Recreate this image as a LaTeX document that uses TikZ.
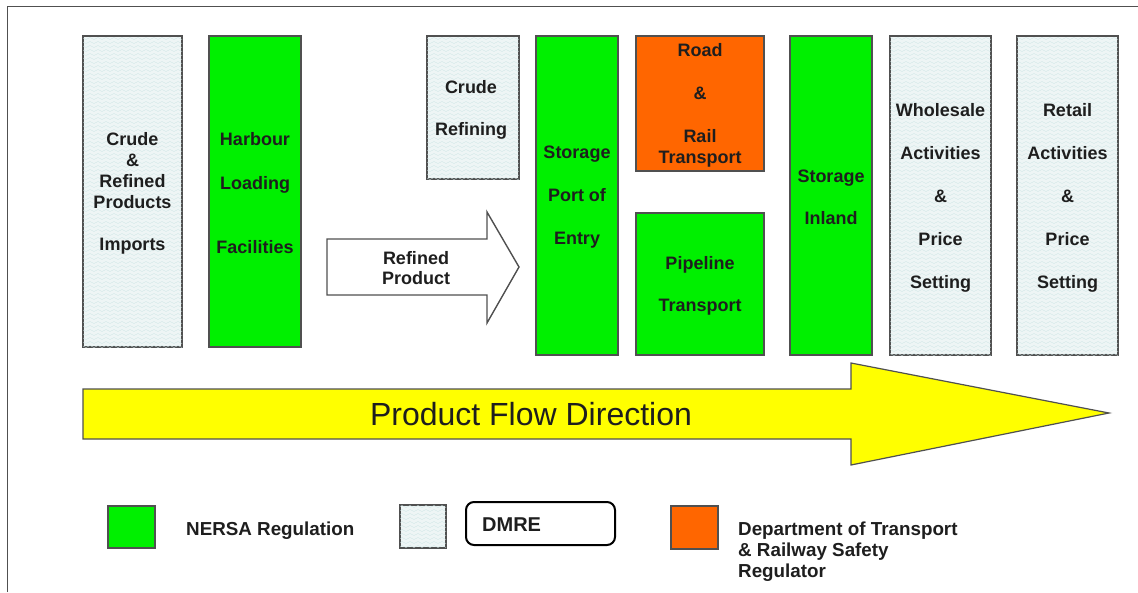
\documentclass[tikz,border=0pt]{standalone}
\usepackage{fontspec}
\setmainfont{Liberation Sans}
\usetikzlibrary{patterns}

% fine wavy texture used for the DMRE-regulated activities
\pgfdeclarepatternformonly{wavelets}{\pgfqpoint{0pt}{-0.5pt}}{\pgfqpoint{8pt}{4pt}}{\pgfqpoint{8pt}{4pt}}{%
  \pgfsetlinewidth{0.35pt}%
  \pgfpathmoveto{\pgfqpoint{0pt}{1.5pt}}%
  \pgfpathcurveto{\pgfqpoint{1.33pt}{2.8pt}}{\pgfqpoint{2.67pt}{2.8pt}}{\pgfqpoint{4pt}{1.5pt}}%
  \pgfpathcurveto{\pgfqpoint{5.33pt}{0.2pt}}{\pgfqpoint{6.67pt}{0.2pt}}{\pgfqpoint{8pt}{1.5pt}}%
  \pgfusepath{stroke}%
}

\definecolor{framegray}{HTML}{505050}
\definecolor{inkdark}{HTML}{1E1E1E}
\definecolor{nersagreen}{HTML}{00F000}
\definecolor{dotorange}{HTML}{FF6600}
\definecolor{dmretint}{HTML}{EEF5F5}
\definecolor{dmrewave}{HTML}{CFE5E5}
\definecolor{flowyellow}{HTML}{FFFF00}

\tikzset{
  actbox/.style={draw=framegray, line width=1.4pt, rectangle, inner sep=0pt},
  dmrebox/.style={actbox, fill=dmretint, postaction={pattern=wavelets, pattern color=dmrewave}},
  nersabox/.style={actbox, fill=nersagreen},
  dotbox/.style={actbox, fill=dotorange},
  boxtext/.style={text=inkdark, align=center, inner sep=0pt,
    font=\fontsize{18}{21}\selectfont\bfseries},
  keytext/.style={text=inkdark, align=left, anchor=west, inner sep=0pt,
    font=\fontsize{18.8}{21}\selectfont\bfseries},
}

\begin{document}
\begin{tikzpicture}[x=1pt, y=-1pt]
\useasboundingbox (0,0) rectangle (1138,592);

% page frame
\draw[framegray, line width=1pt] (7,592) -- (7,6.5) -- (1138,6.5);

% activity columns
\node[dmrebox, minimum width=99, minimum height=311] (imports) at (132.5,191.5) {};
\node[boxtext] (importstxt) at ([yshift=-2pt]imports.center)
  {Crude\\ \&\\ Refined\\ Products\\[21pt] Imports};
\node[nersabox, minimum width=92, minimum height=311] (harbour) at (255,191.5) {};
\node[boxtext] (harbourtxt) at ([yshift=-2pt]harbour.center)
  {Harbour\\[23pt] Loading\\[43pt] Facilities};
\node[dmrebox, minimum width=92, minimum height=143] (refining) at (473,107.5) {};
\node[boxtext] (refiningtxt) at ([xshift=-2pt, yshift=-2pt]refining.center)
  {Crude\\[21pt] Refining};
\node[nersabox, minimum width=82, minimum height=319] (portstore) at (577,195.5) {};
\node[boxtext] (portstoretxt) at ([yshift=-2pt]portstore.center)
  {Storage\\[22pt] Port of\\[22pt] Entry};
\node[dotbox, minimum width=128, minimum height=135] (roadrail) at (700,103.5) {};
\node[boxtext] (roadrailtxt) at ([yshift=-2pt]roadrail.center)
  {Road\\[22pt] \&\\[22pt] Rail\\ Transport};
\node[nersabox, minimum width=128, minimum height=142] (pipeline) at (700,284) {};
\node[boxtext] (pipelinetxt) at ([yshift=-2pt]pipeline.center)
  {Pipeline\\[21pt] Transport};
\node[nersabox, minimum width=82, minimum height=319] (inland) at (831,195.5) {};
\node[boxtext] (inlandtxt) at ([yshift=-2pt]inland.center)
  {Storage\\[21pt] Inland};
\node[dmrebox, minimum width=101, minimum height=319] (wholesale) at (940.5,195.5) {};
\node[boxtext] (wholesaletxt) at ([yshift=-2pt]wholesale.center)
  {Wholesale\\[22pt] Activities\\[22pt] \&\\[22pt] Price\\[22pt] Setting};
\node[dmrebox, minimum width=101, minimum height=319] (retail) at (1067.5,195.5) {};
\node[boxtext] (retailtxt) at ([yshift=-2pt]retail.center)
  {Retail\\[22pt] Activities\\[22pt] \&\\[22pt] Price\\[22pt] Setting};

% refined product block arrow
\draw[framegray, line width=1.4pt, fill=white]
  (327,239) -- (487,239) -- (487,212) -- (519,267) -- (487,323) -- (487,295) -- (327,295) -- cycle;
\node[boxtext, font=\fontsize{18}{20}\selectfont\bfseries]
  (refined) at (416,268) {Refined\\ Product};

% product flow arrow
\draw[framegray, line width=1.2pt, fill=flowyellow]
  (83,389) -- (851,389) -- (851,363) -- (1109,413) -- (851,465) -- (851,439) -- (83,439) -- cycle;
\node[text=inkdark, inner sep=0pt, font=\fontsize{32}{36}\selectfont]
  (flow) at (531,414) {Product Flow Direction};

% legend
\node[nersabox, minimum width=47, minimum height=42] (keynersa) at (131.5,527) {};
\node[keytext] (lblnersa) at (186,531) {NERSA Regulation};
\node[dmrebox, minimum width=46, minimum height=43] (keydmre) at (423,526.5) {};
\node[draw=black, line width=2pt, rounded corners=8pt, minimum width=149, minimum height=43,
  inner sep=0pt] (dmreframe) at (540.5,523.5) {};
\node[keytext, font=\fontsize{20}{22}\selectfont\bfseries] (lbldmre) at (482,525) {DMRE};
\node[dotbox, minimum width=47, minimum height=43] (keydot) at (694.5,527.5) {};
\node[keytext] (lbldot) at (738,552) {Department of Transport\\ \& Railway Safety\\ Regulator};
\end{tikzpicture}
\end{document}
